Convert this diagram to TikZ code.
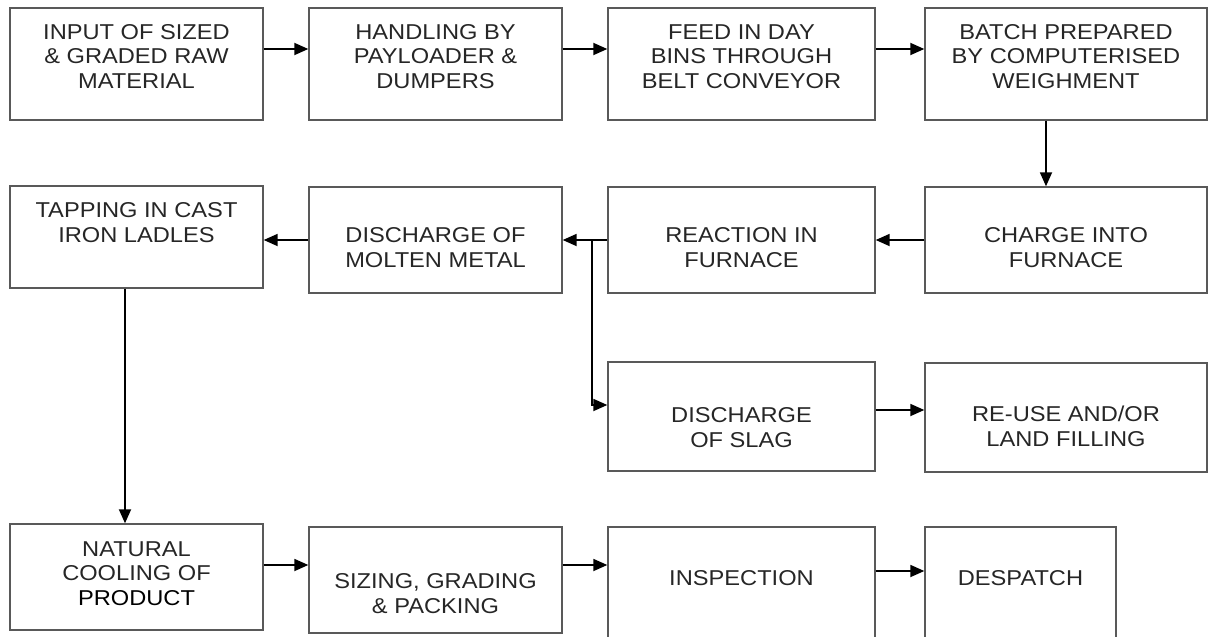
\documentclass[tikz,border=0pt]{standalone}
\usepackage{fontspec}
\setmainfont{Liberation Sans}[FakeStretch=1.10]
\usetikzlibrary{arrows.meta}

\begin{document}
\begin{tikzpicture}[x=1pt,y=-1pt,->,>={Triangle[length=14pt,width=12pt]},
        line width=1.8pt,
        box/.style={draw=black!65,line width=1.4pt,rectangle,align=center,
          text=black!85,inner sep=0pt,font=\fontsize{21.5}{24.5}\selectfont},
        lift/.style={text height=#1,text depth=0pt}]

  \useasboundingbox (0,0) rectangle (1208,637);

  \node[box,minimum width=253pt,minimum height=112pt,lift=48pt] (input) at (136.5,64) {INPUT OF SIZED\\ \& GRADED RAW\\ MATERIAL};
  \node[box,minimum width=253pt,minimum height=112pt,lift=48pt] (handling) at (435.5,64) {HANDLING BY\\ PAYLOADER \&\\ DUMPERS};
  \node[box,minimum width=267pt,minimum height=112pt,lift=48pt] (feed) at (741.5,64) {FEED IN DAY\\ BINS THROUGH\\ BELT CONVEYOR};
  \node[box,minimum width=282pt,minimum height=112pt,lift=48pt] (batch) at (1066,64) {BATCH PREPARED\\ BY COMPUTERISED\\ WEIGHMENT};

  \node[box,minimum width=253pt,minimum height=102pt,lift=10pt] (tapping) at (136.5,237) {TAPPING IN CAST\\ IRON LADLES};
  \node[box,minimum width=253pt,minimum height=106pt,lift=54pt] (molten) at (435.5,240) {DISCHARGE OF\\ MOLTEN METAL};
  \node[box,minimum width=267pt,minimum height=106pt,lift=54pt] (reaction) at (741.5,240) {REACTION IN\\ FURNACE};
  \node[box,minimum width=282pt,minimum height=106pt,lift=54pt] (charge) at (1066,240) {CHARGE INTO\\ FURNACE};

  \node[box,minimum width=267pt,minimum height=109pt,lift=61pt] (slag) at (741.5,416.5) {DISCHARGE\\ OF SLAG};
  \node[box,minimum width=282pt,minimum height=109pt,lift=57pt] (reuse) at (1066,417.5) {RE-USE AND/OR\\ LAND FILLING};

  \node[box,minimum width=253pt,minimum height=106pt,lift=56pt] (cooling) at (136.5,577) {NATURAL\\ COOLING OF\\ {\color{black}PRODUCT}};
  \node[box,minimum width=253pt,minimum height=106pt,lift=66pt] (sizing) at (435.5,580) {SIZING, GRADING\\ \& PACKING};
  \node[box,minimum width=267pt,minimum height=123pt,text height=0pt,text depth=7pt] (inspection) at (741.5,588.5) {INSPECTION};
  \node[box,minimum width=191pt,minimum height=123pt,text height=0pt,text depth=7pt] (despatch) at (1020.5,588.5) {DESPATCH};

  \coordinate (split) at ([xshift=29pt]molten.east);

  \path ([yshift=15pt]input.east) edge ([yshift=15pt]handling.west)
        ([yshift=15pt]handling.east) edge ([yshift=15pt]feed.west)
        ([yshift=15pt]feed.east) edge ([yshift=15pt]batch.west)
        ([xshift=-20pt]batch.south) edge ([xshift=-20pt]charge.north)
        (charge.west) edge (reaction.east)
        (reaction.west) edge (molten.east)
        (molten.west) edge ([yshift=-3pt]tapping.east)
        ([yshift=6.5pt]slag.east) edge ([yshift=7.5pt]reuse.west)
        ([xshift=-11.5pt]tapping.south) edge ([xshift=-11.5pt]cooling.north)
        ([yshift=12pt]cooling.east) edge ([yshift=15pt]sizing.west)
        ([yshift=15pt]sizing.east) edge ([yshift=23.5pt]inspection.west)
        ([yshift=17.5pt]inspection.east) edge ([yshift=17.5pt]despatch.west);

  \draw (split) |- ([yshift=11.5pt]slag.west);

\end{tikzpicture}
\end{document}
